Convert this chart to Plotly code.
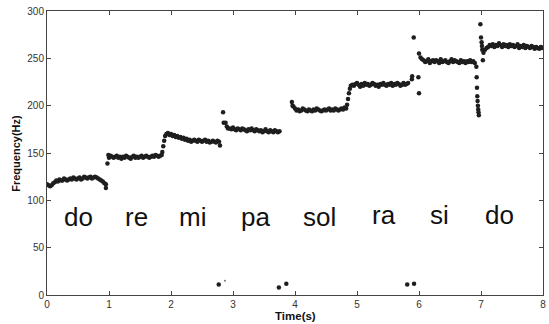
import plotly.graph_objects as go

# ---- data (time in s, frequency in Hz) ----
t_do1 = [0.000,0.025,0.050,0.075,0.100,0.125,0.150,0.175,0.200,0.225,0.250,0.275,0.300,0.325,0.350,0.375,0.400,0.425,0.450,0.475,
         0.500,0.525,0.550,0.575,0.600,0.625,0.650,0.675,0.700,0.725,0.750,0.775,0.800,0.825,0.850,0.875,0.900,0.925,0.950,0.950]
f_do1 = [117,116,115,116,118,119,121,120,122,121,121,123,122,121,122,123,122,124,123,122,
         123,124,122,123,125,124,123,124,125,123,124,125,124,123,122,121,120,118,113,117]

t_re = [0.975,0.990,1.000,1.025,1.050,1.075,1.100,1.125,1.150,1.175,1.200,1.225,1.250,1.275,1.300,1.325,1.350,1.375,1.400,1.425,
        1.450,1.475,1.500,1.525,1.550,1.575,1.600,1.625,1.650,1.675,1.700,1.725,1.750,1.775,1.800,1.825,1.850]
f_re = [139,148,145,147,146,145,146,147,145,146,144,146,145,147,146,145,144,146,147,145,
        146,145,146,147,145,146,147,146,145,146,147,146,148,147,146,147,148]

t_mi = [1.860,1.875,1.890,1.905,1.925,1.950,1.975,2.000,2.025,2.050,2.075,2.100,2.125,2.150,2.175,2.200,2.225,2.250,2.275,2.300,
        2.325,2.350,2.375,2.400,2.425,2.450,2.475,2.500,2.525,2.550,2.575,2.600,2.625,2.650,2.675,2.700,2.725,2.750,2.775,2.790]
f_mi = [151,157,163,168,170,171,169,170,168,169,167,168,166,167,165,166,164,165,163,164,
        162,163,164,163,162,164,163,162,163,164,162,163,161,162,163,162,161,163,162,158]

t_pa = [2.840,2.850,2.880,2.900,2.920,2.950,2.975,3.000,3.025,3.050,3.075,3.100,3.125,3.150,3.175,3.200,3.225,3.250,3.275,3.300,
        3.325,3.350,3.375,3.400,3.425,3.450,3.475,3.500,3.525,3.550,3.575,3.600,3.625,3.650,3.675,3.700,3.725,3.750]
f_pa = [193,182,182,178,176,176,175,177,175,174,176,175,174,176,175,174,173,175,174,176,
        174,173,175,174,173,174,172,173,175,173,172,174,173,172,174,173,172,173]

t_sol = [3.950,3.960,3.975,4.000,4.025,4.050,4.075,4.100,4.125,4.150,4.175,4.200,4.225,4.250,4.275,4.300,4.325,4.350,4.375,4.400,
         4.425,4.450,4.475,4.500,4.525,4.550,4.575,4.600,4.625,4.650,4.675,4.700,4.725,4.750,4.775,4.800,4.825,
         4.840,4.855,4.870,4.885,4.900]
f_sol = [204,200,199,197,195,196,194,195,197,196,195,194,196,195,194,196,195,197,196,195,
         194,195,196,195,196,197,195,196,195,197,196,195,196,197,196,198,197,
         201,207,213,218,221]

t_ra = [4.925,4.950,4.975,5.000,5.025,5.050,5.075,5.100,5.125,5.150,5.175,5.200,5.225,5.250,5.275,5.300,5.325,5.350,5.375,5.400,
        5.425,5.450,5.475,5.500,5.525,5.550,5.575,5.600,5.625,5.650,5.675,5.700,5.725,5.750,5.775,5.800,5.825,
        5.885,5.890,5.915,5.990,6.000]
f_ra = [222,221,223,224,222,220,223,221,224,222,223,221,222,224,223,221,222,220,223,222,
        224,222,221,223,222,224,221,223,222,224,223,221,222,224,222,223,224,
        228,231,272,230,213]

t_si = [6.000,6.025,6.050,6.075,6.100,6.125,6.150,6.175,6.200,6.225,6.250,6.275,6.300,6.325,6.350,6.375,6.400,6.425,6.450,6.475,
        6.500,6.525,6.550,6.575,6.600,6.625,6.650,6.675,6.700,6.725,6.750,6.775,6.800,6.825,6.850,6.875,6.900,
        6.925,6.930,6.935,6.940,6.945,6.950,6.955,6.960,6.965]
f_si = [255,251,249,248,246,247,249,245,247,248,246,248,247,245,249,246,247,248,246,245,
        247,249,246,248,247,246,245,248,246,247,245,247,246,248,246,247,245,
        241,230,219,210,205,200,196,193,190]

t_do2 = [6.990,7.000,7.010,7.015,7.020,7.030,7.040,7.065,7.090,7.115,7.140,7.165,7.190,7.215,7.240,7.265,7.290,7.315,7.340,7.365,
         7.390,7.415,7.440,7.465,7.490,7.515,7.540,7.565,7.590,7.615,7.640,7.665,7.690,7.715,7.740,7.765,7.790,7.815,7.840,
         7.865,7.890,7.915,7.940,7.965,7.990]
f_do2 = [286,272,267,263,259,248,256,259,261,262,264,263,265,262,264,263,266,264,262,265,
         263,264,262,265,263,264,262,263,265,261,263,262,264,261,263,262,261,263,262,
         260,262,261,260,262,261]

t_low = [2.77, 3.74, 3.86, 5.81, 5.92]
f_low = [11, 8, 12, 11, 12]
t_faint = [2.87]
f_faint = [15]

syllables = ["do", "re", "mi", "pa", "sol", "ra", "si", "do"]
syl_t = [0.51, 1.44, 2.35, 3.36, 4.39, 5.44, 6.33, 7.30]
syl_f = [82, 82, 82, 82, 82, 85, 85, 85]

x_ticks = [0, 1, 2, 3, 4, 5, 6, 7, 8]
y_ticks = [0, 50, 100, 150, 200, 250, 300]

# ---- figure ----
all_t = t_do1 + t_re + t_mi + t_pa + t_sol + t_ra + t_si + t_do2 + t_low
all_f = f_do1 + f_re + f_mi + f_pa + f_sol + f_ra + f_si + f_do2 + f_low

fig = go.Figure()
fig.add_trace(go.Scatter(x=all_t, y=all_f, mode="markers",
                         marker=dict(size=4.5, color="#1e1e1e"), showlegend=False))
fig.add_trace(go.Scatter(x=t_faint, y=f_faint, mode="markers",
                         marker=dict(size=2, color="#777777"), showlegend=False))

for s, tx, fy in zip(syllables, syl_t, syl_f):
    fig.add_annotation(x=tx, y=fy, text=s, showarrow=False,
                       font=dict(family="Liberation Sans", size=26, color="#111111"))

# axis titles placed as paper annotations
fig.add_annotation(xref="paper", yref="paper", x=0.5, y=-0.074, yanchor="middle",
                   text="<b>Time(s)</b>", showarrow=False,
                   font=dict(family="Liberation Sans", size=11.5, color="#111111"))
fig.add_annotation(xref="paper", yref="paper", x=-0.063, y=0.5, xanchor="center",
                   text="<b>Frequency(Hz)</b>", showarrow=False, textangle=-90,
                   font=dict(family="Liberation Sans", size=11, color="#111111"))

axis_common = dict(showline=True, linecolor="#444444", linewidth=1, mirror="ticks",
                   ticks="inside", ticklen=4, tickcolor="#444444", showgrid=False,
                   zeroline=False, automargin=False,
                   tickfont=dict(family="Liberation Sans", size=10, color="#333333"))

fig.update_xaxes(range=[0, 8], tickvals=x_ticks, ticktext=[str(v) for v in x_ticks],
                 **axis_common)
fig.update_yaxes(range=[0, 300], tickvals=y_ticks, ticktext=[str(v) for v in y_ticks],
                 **axis_common)

fig.update_layout(width=549, height=324,
                  margin=dict(l=47, r=6, t=11, b=29),
                  plot_bgcolor="white", paper_bgcolor="white")

# remove the default 8px page margin so the figure fills the window exactly
fig.write_html("out.html", config={"displayModeBar": False},
               post_script="document.body.style.margin='0';document.body.style.overflow='hidden';")
